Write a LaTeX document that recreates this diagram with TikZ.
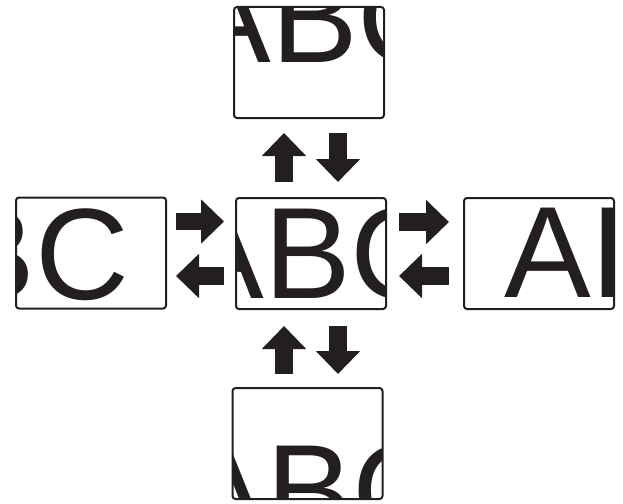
\documentclass[tikz,border=0pt]{standalone}
\usepackage{fontspec}
\setmainfont{Liberation Sans}
\usetikzlibrary{arrows.meta}
\definecolor{ink}{HTML}{231F20}
\tikzset{
	pane/.style 2 args = {draw = ink, line width = 2pt, rounded corners = 3pt, fill = white,
		minimum width = 150pt, minimum height = 111pt, inner sep = 0pt,
		path picture = {\node [ink, anchor = base, inner sep = 0pt, font = \fontsize{130}{130}\selectfont]
			at ([xshift = #1pt, yshift = #2pt]path picture bounding box.center) {ABC};}},
	blk/.style = {ink, line width = 17.5pt, -{Triangle[width = 43pt, length = 23pt]}}
}
\begin{document}
\begin{tikzpicture} [x = 1pt, y = -1pt]
	\useasboundingbox (0,0) rectangle (623,503);
	\node [pane = {0}{-44.5}] (mid) at (311,253.5) {}; %centre
	\node [pane = {9}{-0.5}] (up) at (309,62.5) {}; %top
	\node [pane = {5.5}{-91.5}] (down) at (307.5,443.5) {}; %bottom
	\node [pane = {-95.3}{-46}] (west) at (91,253) {}; %left
	\node [pane = {99.6}{-43.5}] (east) at (539,253.5) {}; %right
	% left <-> centre
	\draw [blk, shorten <= 9pt, shorten >= 11pt] ([yshift = 31.5pt]west.east) -- ([yshift = 31.5pt]west.east -| mid.west);
	\draw [blk, shorten <= 11pt, shorten >= 9pt] ([yshift = -22.5pt]mid.west) -- ([yshift = -22.5pt]mid.west -| west.east);
	% centre <-> right
	\draw [blk, shorten <= 12pt, shorten >= 14pt] ([yshift = 31.5pt]mid.east) -- ([yshift = 31.5pt]mid.east -| east.west);
	\draw [blk, shorten <= 14pt, shorten >= 12pt] ([yshift = -22.5pt]east.west) -- ([yshift = -22.5pt]east.west -| mid.east);
	% top <-> centre
	\draw [blk, shorten <= 15pt, shorten >= 14pt] ([xshift = -27pt]mid.north) -- ([xshift = -27pt]mid.north |- up.south);
	\draw [blk, shorten <= 14pt, shorten >= 15pt] ([xshift = 27pt]mid.north |- up.south) -- ([xshift = 27pt]mid.north);
	% centre <-> bottom
	\draw [blk, shorten <= 13pt, shorten >= 16pt] ([xshift = -27pt]mid.south |- down.north) -- ([xshift = -27pt]mid.south);
	\draw [blk, shorten <= 16pt, shorten >= 13pt] ([xshift = 27pt]mid.south) -- ([xshift = 27pt]mid.south |- down.north);
\end{tikzpicture}
\end{document}
